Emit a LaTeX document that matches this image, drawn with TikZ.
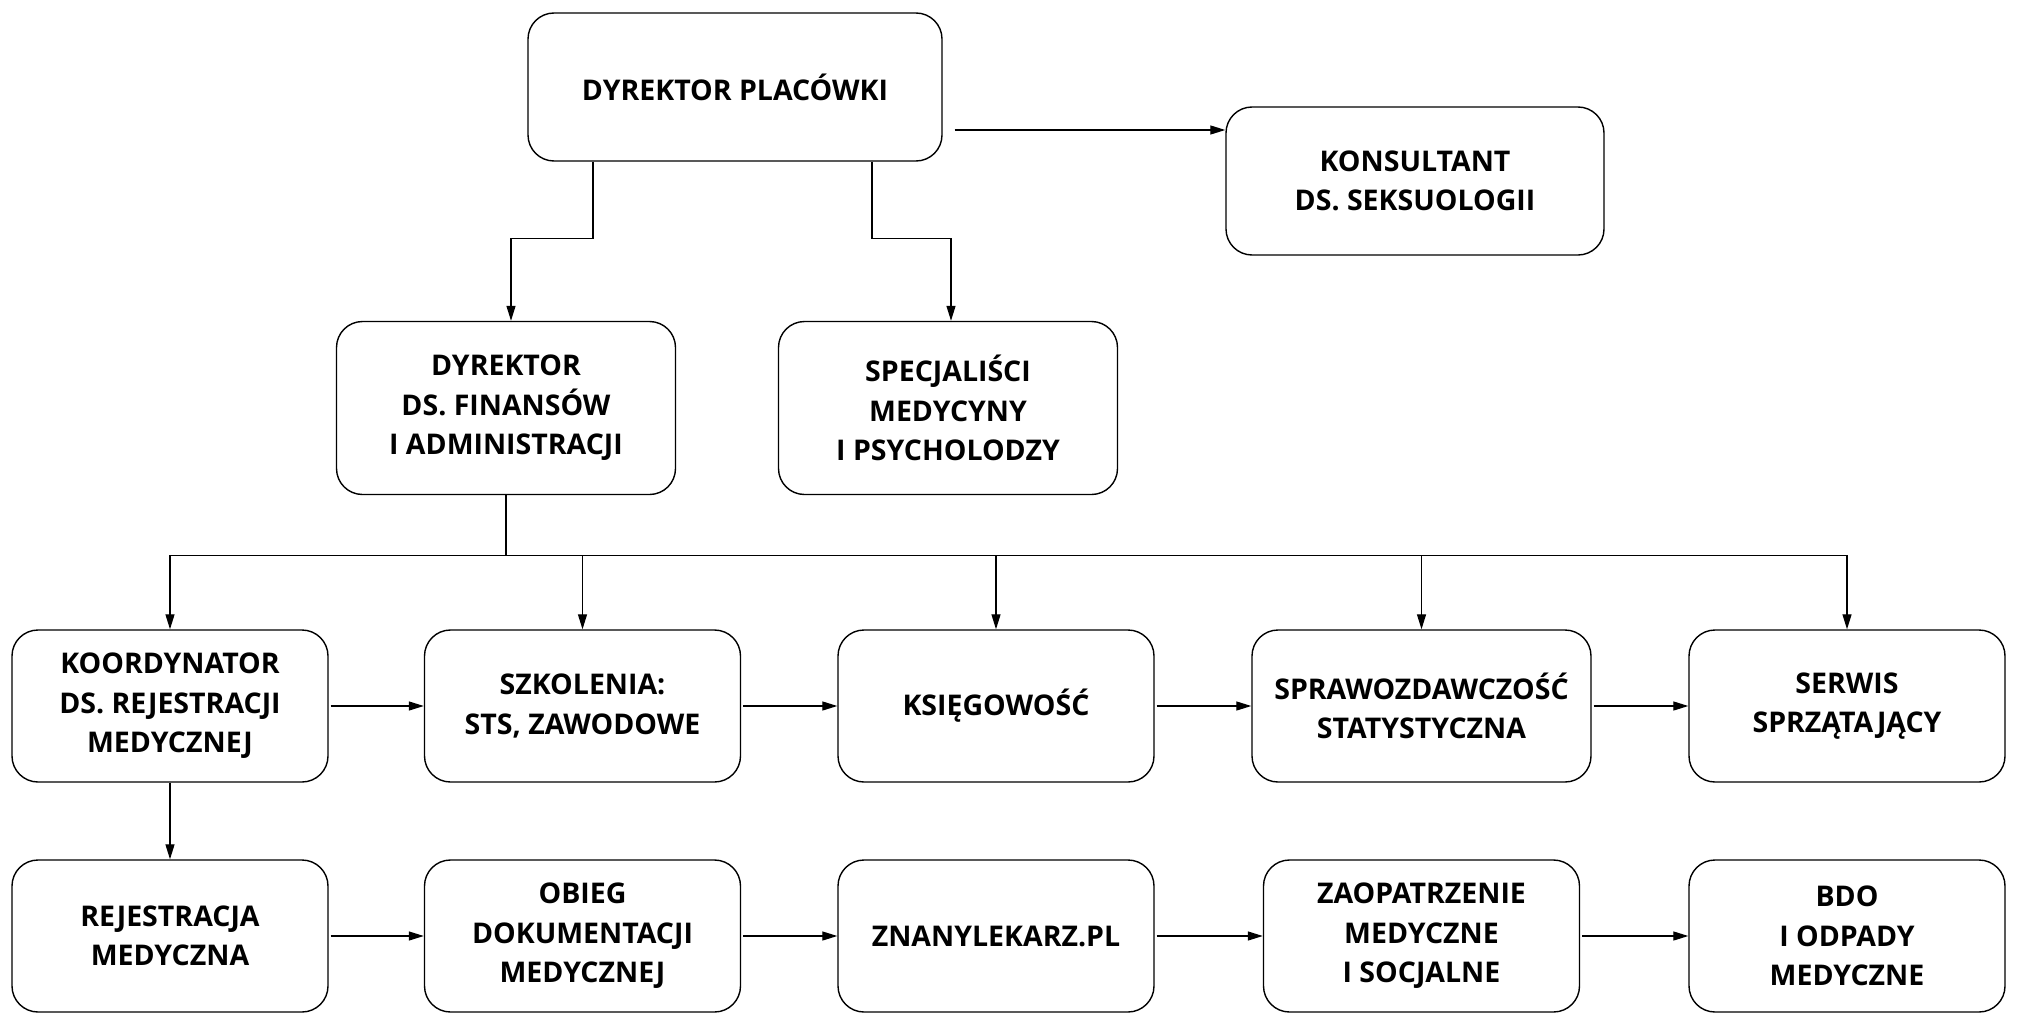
\documentclass[tikz,border=0pt]{standalone}
\usepackage{fontspec}
\usepackage{tikz}
\usetikzlibrary{arrows.meta,positioning}
\newfontfamily\boxfamily{Open Sans}
\newcommand\boxfont{\boxfamily\bfseries\fontsize{28.5}{39.5}\selectfont}

\begin{document}
\begin{tikzpicture}[x=1pt,y=-1pt,
  box/.style={draw, line width=1.4pt, rounded corners=26pt, align=center,
    font=\boxfont, inner sep=0pt, minimum width=316pt, minimum height=152pt},
  arr/.style={-{Triangle[length=15pt,width=9pt]}, line width=1.3pt}]
\useasboundingbox (0,0) rectangle (2020,1014);

\node (top) at (735,87) [box, minimum width=414pt, minimum height=148pt] {DYREKTOR PLACÓWKI};
\node (kons) at (1415,181) [box, minimum width=378pt, minimum height=148pt] {KONSULTANT\\DS. SEKSUOLOGII};

\node (dyrfin) at (506,408) [box, minimum width=339pt, minimum height=173pt] {DYREKTOR\\DS. FINANSÓW\\I ADMINISTRACJI};
\node (spec) at (948,408) [box, minimum width=339pt, minimum height=173pt] {SPECJALIŚCI\\MEDYCYNY\\I PSYCHOLODZY};

\node (koord) at (170,706) [box] {KOORDYNATOR\\DS. REJESTRACJI\\MEDYCZNEJ};
\node (szk) at (582.5,706) [box] {SZKOLENIA:\\STS, ZAWODOWE};
\node (ksieg) at (996,706) [box] {KSIĘGOWOŚĆ};
\node (spraw) at (1421.5,706) [box, minimum width=339pt] {SPRAWOZDAWCZOŚĆ\\STATYSTYCZNA};
\node (serwis) at (1847,706) [box] {SERWIS\\SPRZĄTAJĄCY};

\node (rejestr) at (170,936) [box] {REJESTRACJA\\MEDYCZNA};
\node (obieg) at (582.5,936) [box] {OBIEG\\DOKUMENTACJI\\MEDYCZNEJ};
\node (znany) at (996,936) [box] {ZNANYLEKARZ.PL};
\node (zaop) at (1421.5,936) [box] {ZAOPATRZENIE\\MEDYCZNE\\I SOCJALNE};
\node (bdo) at (1847,936) [box] {BDO\\I ODPADY\\MEDYCZNE};

\draw [arr, shorten <=12pt] ([yshift=-43pt]top.east) -- ([yshift=-43pt]top.east -| kons.west);
\draw [arr] ([xshift=-142pt]top.south) |- ([xshift=5pt,yshift=82pt]dyrfin.north) -- ([xshift=5pt]dyrfin.north);
\draw [arr] ([xshift=137pt]top.south) |- ([xshift=3pt,yshift=82pt]spec.north) -- ([xshift=3pt]spec.north);

\coordinate (bus) at ([yshift=-60pt]dyrfin.south);
\draw [line width=1.3pt] (dyrfin.south) -- (bus);
\draw [line width=1.3pt] (bus -| koord) -- (bus -| serwis);
\foreach \n in {koord,szk,ksieg,spraw,serwis}
  \draw [arr] (bus -| \n) -- (\n.north);

\foreach \a/\b in {koord/szk,szk/ksieg,ksieg/spraw,spraw/serwis,rejestr/obieg,obieg/znany,znany/zaop,zaop/bdo}
  \draw [arr, shorten <=2pt] (\a.east) -- (\b.west);
\draw [arr] (koord.south) -- (rejestr.north);
\end{tikzpicture}
\end{document}
